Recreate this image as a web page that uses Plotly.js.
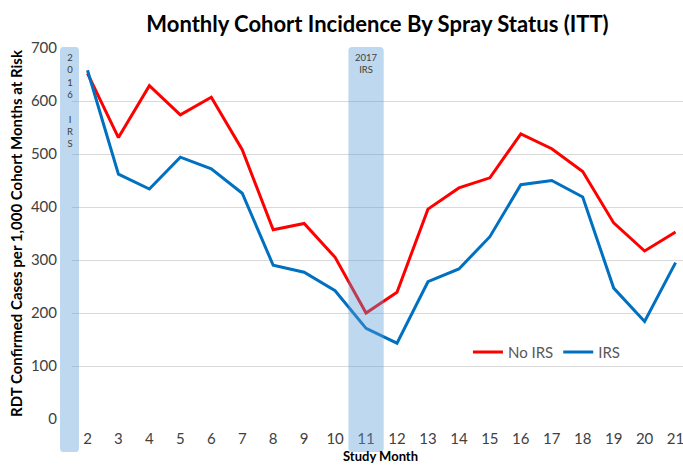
<!DOCTYPE html>
<html>
<head>
<meta charset="utf-8">
<script src="https://cdn.plot.ly/plotly-3.0.1.min.js"></script>
<style>html,body{margin:0;padding:0;background:#fff;}#chart{width:683px;height:466px;}</style>
</head>
<body>
<div id="chart"></div>
<script>
const months = [2,3,4,5,6,7,8,9,10,11,12,13,14,15,16,17,18,19,20,21];
const noIRS = [652,531,629,574,607,508,357,369,305,200,239,396,436,455,538,510,467,370,317,353];
const IRS   = [658,462,434,494,472,426,290,277,242,171,143,259,283,344,442,450,419,247,184,295];
const seriesNames = ["No IRS", "IRS"];
const yTicks = [0,100,200,300,400,500,600,700];
const band2016Text = "2<br>0<br>1<br>6<br><br>I<br>R<br>S";
const band2017Text = "2017<br>IRS";
const xTitle = "Study Month";

const F = "Lato, 'Open Sans', sans-serif";

function roundedRect(x0, x1, y0, y1, rx, ry) {
  return `M${x0+rx},${y1} L${x1-rx},${y1} Q${x1},${y1} ${x1},${y1-ry} L${x1},${y0+ry} Q${x1},${y0} ${x1-rx},${y0} L${x0+rx},${y0} Q${x0},${y0} ${x0},${y0+ry} L${x0},${y1-ry} Q${x0},${y1} ${x0+rx},${y1} Z`;
}

const traces = [
  {x: months, y: noIRS, name: seriesNames[0], type: 'scatter', mode: 'lines',
   line: {color: '#FF0000', width: 3}},
  {x: months, y: IRS, name: seriesNames[1], type: 'scatter', mode: 'lines',
   line: {color: '#0070C0', width: 3}}
];

const bandFill = 'rgba(87,154,213,0.39)';
const layout = {
  width: 683, height: 466,
  margin: {l: 72, r: 0, t: 48, b: 47},
  paper_bgcolor: '#fff', plot_bgcolor: '#fff',
  font: {family: F, color: '#404040', size: 14},
  title: {text: '<b>Monthly Cohort Incidence By Spray Status (ITT)</b>',
          font: {family: F, size: 22, color: '#000'},
          x: 0.5, xref: 'paper', xanchor: 'center', y: 0.947, yanchor: 'middle'},
  xaxis: {range: [1.5, 21.24], tickvals: months, ticktext: months.map(String),
          showgrid: false, zeroline: false, showline: false, ticks: '',
          ticklabelstandoff: 9, ticklabeloverflow: 'allow',
          tickfont: {family: F, size: 15, color: '#404040'}},
  yaxis: {range: [0, 700], tickvals: yTicks, showgrid: true, gridcolor: '#D9D9D9', gridwidth: 1,
          zeroline: false, showline: false, ticks: '', ticklabelstandoff: 14,
          tickfont: {family: F, size: 15, color: '#404040'},
          title: {text: '<b>RDT Confirmed Cases per 1,000 Cohort Months at Risk</b>',
                  font: {family: F, size: 15, color: '#000'}, standoff: 4}},
  showlegend: true,
  legend: {orientation: 'h', x: 0.648, y: 0.18, xanchor: 'left', yanchor: 'middle',
           font: {family: F, size: 15, color: '#595959'}, bgcolor: 'rgba(0,0,0,0)'},
  shapes: [
    {type: 'path', xref: 'paper', yref: 'paper', layer: 'above', line: {width: 0},
     fillcolor: bandFill, path: roundedRect(-0.0196, 0.0115, -0.089, 1.003, 0.005, 0.011)},
    {type: 'path', xref: 'x', yref: 'paper', layer: 'above', line: {width: 0},
     fillcolor: bandFill, path: roundedRect(10.43, 11.57, -0.089, 1.003, 0.12, 0.011)}
  ],
  annotations: [
    {text: band2016Text, xref: 'paper', yref: 'paper', x: -0.0035, y: 0.995, xanchor: 'center', yanchor: 'top',
     showarrow: false, font: {family: F, size: 9.5, color: '#404040'}},
    {text: band2017Text, xref: 'x', yref: 'paper', x: 11, y: 0.995, xanchor: 'center', yanchor: 'top',
     showarrow: false, font: {family: F, size: 9.5, color: '#404040'}},
    {text: '<b>' + xTitle + '</b>', xref: 'paper', yref: 'paper', x: 0.505, y: -0.1245, xanchor: 'center', yanchor: 'bottom',
     showarrow: false, borderpad: 0, font: {family: F, size: 13, color: '#000'}}
  ]
};

Plotly.newPlot('chart', traces, layout, {displayModeBar: false, staticPlot: true});
</script>
</body>
</html>
